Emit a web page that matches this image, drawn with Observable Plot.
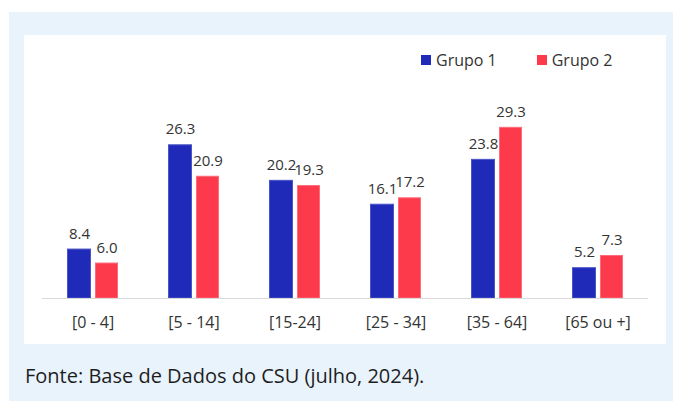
<!DOCTYPE html>
<html>
<head>
<meta charset="utf-8">
<script src="https://cdn.jsdelivr.net/npm/d3@7"></script>
<script src="https://cdn.jsdelivr.net/npm/@observablehq/plot@0.6"></script>
<style>
  html, body { margin: 0; padding: 0; background: #ffffff; font-family: "Open Sans", sans-serif; }
  #panel { position: absolute; left: 9px; top: 12px; width: 664px; height: 389px; background: #e9f3fc; }
  #inner { position: absolute; left: 24px; top: 35px; width: 642px; height: 309px; background: #ffffff; }
  #chart svg { display: block; }
  #legend { position: absolute; left: 397px; top: 8px; line-height: 20px; }
  #legend .leg-swatches { margin: 0 !important; font-size: 16px !important; font-family: "Open Sans", sans-serif !important; color: #333 !important; }
  #legend .leg-swatch { margin-right: 40px !important; }
  #legend .leg-swatch > svg { margin-right: 5px !important; }
  #caption { position: absolute; left: 25px; top: 363px; font-size: 20px; line-height: 26px; color: #1e1e1e; white-space: nowrap; }
</style>
</head>
<body>
<div id="panel"></div>
<div id="inner"><div id="chart"></div><div id="legend"></div></div>
<div id="caption">Fonte: Base de Dados do CSU (julho, 2024).</div>
<script>
const categories = ["[0 - 4]", "[5 - 14]", "[15-24]", "[25 - 34]", "[35 - 64]", "[65 ou +]"];
const groups = ["Grupo 1", "Grupo 2"];
const grupo1 = [8.4, 26.3, 20.2, 16.1, 23.8, 5.2];
const grupo2 = [6.0, 20.9, 19.3, 17.2, 29.3, 7.3];
const colors = ["#1f2bb8", "#fd3a4c"];
const strokes = ["#4a54c9", "#ff6b78"];

const d1 = categories.map((c, i) => ({category: c, group: groups[0], value: grupo1[i]}));
const d2 = categories.map((c, i) => ({category: c, group: groups[1], value: grupo2[i]}));

const chart = Plot.plot({
  width: 642,
  height: 309,
  marginLeft: 18,
  marginRight: 18,
  marginTop: 30,
  marginBottom: 46,
  style: {background: "transparent", fontFamily: "Open Sans, sans-serif", overflow: "visible"},
  x: {domain: categories, paddingInner: 0.5, paddingOuter: 0.25, label: null},
  y: {domain: [0, 40], axis: null},
  color: {domain: groups, range: colors},
  marks: [
    Plot.barY(d1, {x: "category", y: "value", fill: colors[0], stroke: strokes[0], strokeWidth: 1, insetRight: 27.5, insetLeft: 0.5}),
    Plot.barY(d2, {x: "category", y: "value", fill: colors[1], stroke: strokes[1], strokeWidth: 1, insetLeft: 28.5, insetRight: 0.5}),
    Plot.ruleY([0], {stroke: "#d9d9d9", strokeWidth: 1.2}),
    Plot.text(d1, {x: "category", y: "value", text: d => d.value.toFixed(1), dx: -13.5, dy: -11, lineAnchor: "bottom", fill: "#333", fontSize: 15}),
    Plot.text(d2, {x: "category", y: "value", text: d => d.value.toFixed(1), dx: 14, dy: -11, lineAnchor: "bottom", fill: "#333", fontSize: 15}),
    Plot.axisX({tickSize: 0, tickPadding: 18, fontSize: 16, fill: "#333", label: null})
  ]
});
document.getElementById("chart").appendChild(chart);

const leg = Plot.legend({
  color: {type: "ordinal", domain: groups, range: colors},
  legend: "swatches",
  swatchSize: 10,
  className: "leg"
});
document.getElementById("legend").appendChild(leg);
</script>
</body>
</html>
